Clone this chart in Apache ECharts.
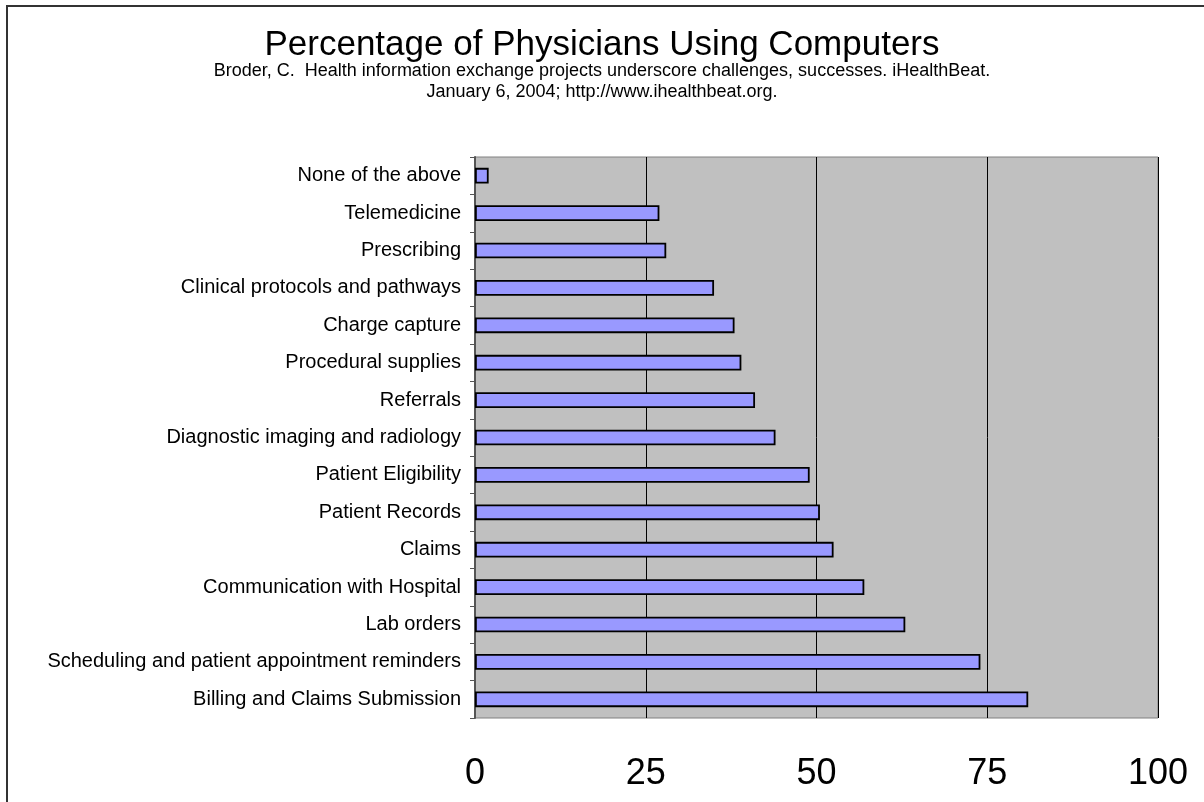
<!DOCTYPE html>
<html>
<head>
<meta charset="utf-8">
<script src="https://cdn.jsdelivr.net/npm/echarts@6/dist/echarts.min.js"></script>
<style>
  html, body { margin: 0; padding: 0; background: #fff; }
  #chart { width: 1204px; height: 802px; }
</style>
</head>
<body>
<div id="chart"></div>
<script>
// categories top to bottom, as shown
var categories = [
  "None of the above",
  "Telemedicine",
  "Prescribing",
  "Clinical protocols and pathways",
  "Charge capture",
  "Procedural supplies",
  "Referrals",
  "Diagnostic imaging and radiology",
  "Patient Eligibility",
  "Patient Records",
  "Claims",
  "Communication with Hospital",
  "Lab orders",
  "Scheduling and patient appointment reminders",
  "Billing and Claims Submission"
];
var percentages = [2, 27, 28, 35, 38, 39, 41, 44, 49, 50.5, 52.5, 57, 63, 74, 81];
var xTicks = [0, 25, 50, 75, 100];

var font = "Liberation Sans, Arial, sans-serif";
var subStyle = { fontFamily: font, fontSize: 18, fontWeight: "normal", color: "#000" };
var chart = echarts.init(document.getElementById("chart"));
chart.setOption({
  animation: false,
  backgroundColor: "#ffffff",
  title: [
    {
      text: "Percentage of Physicians Using Computers",
      left: "center",
      top: 23,
      textStyle: { fontFamily: font, fontSize: 35, fontWeight: "normal", color: "#000" }
    },
    {
      text: "Broder, C.  Health information exchange projects underscore challenges, successes. iHealthBeat.",
      left: "center",
      top: 57,
      textStyle: subStyle
    },
    {
      text: "January 6, 2004; http://www.ihealthbeat.org.",
      left: "center",
      top: 78,
      textStyle: subStyle
    }
  ],
  graphic: [
    {
      type: "rect",
      shape: { x: 7, y: 6, width: 1300, height: 900 },
      style: { fill: "none", stroke: "#333", lineWidth: 2 },
      silent: true
    }
  ],
  grid: {
    left: 475,
    top: 157,
    right: 46,
    bottom: 84,
    show: true,
    backgroundColor: "#c0c0c0",
    borderColor: "#808080",
    borderWidth: 1
  },
  xAxis: {
    type: "value",
    min: 0,
    max: 100,
    interval: 25,
    axisLine: { show: false },
    axisTick: { show: false },
    axisLabel: {
      fontFamily: font,
      fontSize: 36,
      color: "#000",
      margin: 38,
      formatter: function (v) { return xTicks.indexOf(v) >= 0 ? String(v) : ""; }
    },
    splitLine: { show: true, lineStyle: { color: "#000", width: 1 } }
  },
  yAxis: {
    type: "category",
    data: categories,
    inverse: true,
    axisLine: { show: true, lineStyle: { color: "#555", width: 2 } },
    axisTick: { show: true, length: 5, lineStyle: { color: "#555" } },
    axisLabel: { fontFamily: font, fontSize: 20, color: "#000", margin: 14 },
    splitLine: { show: false }
  },
  series: [
    {
      type: "bar",
      data: percentages,
      barCategoryGap: "58%",
      itemStyle: { color: "#9999ff", borderColor: "#000", borderWidth: 1.8 }
    }
  ]
});
</script>
</body>
</html>
